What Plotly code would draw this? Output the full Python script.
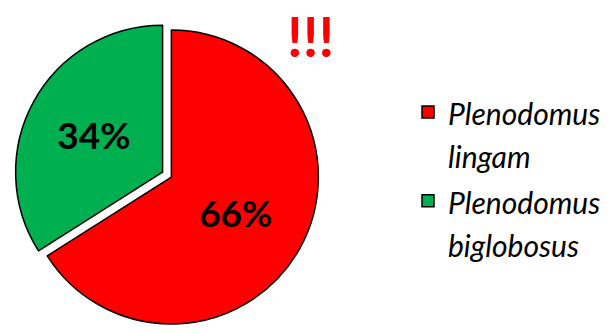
import plotly.graph_objects as go

species = ["Plenodomus<br>lingam", "Plenodomus<br>biglobosus"]
shares = [66, 34]
colors = ["#FF0000", "#00B050"]
pulls = [0, 0.068]
alert_text = "!!!"

legend_labels = ['<span style="font-size:30px">' + s.replace("<br>", '</span><br><span style="font-size:30px">') + "</span>" for s in species]

fig = go.Figure(
    go.Pie(
        labels=legend_labels,
        values=shares,
        sort=False,
        direction="clockwise",
        rotation=0,
        pull=pulls,
        marker=dict(colors=colors, line=dict(color="black", width=1.5)),
        textinfo="percent",
        texttemplate="%{percent:.0%}",
        textposition="inside",
        insidetextorientation="horizontal",
        textfont=dict(family="Lato", size=37, color="black", weight="bold"),
        domain=dict(x=[0.0, 0.56], y=[0.0, 0.94]),
        hoverinfo="skip",
    )
)

fig.add_annotation(
    text=alert_text,
    xref="paper", yref="paper",
    x=310 / 612, y=1.0,
    xanchor="center", yanchor="top",
    showarrow=False,
    font=dict(family="Lato", size=56, color="#FF0000", weight="bold"),
)

fig.update_layout(
    width=612,
    height=334,
    margin=dict(l=0, r=0, t=0, b=0),
    paper_bgcolor="white",
    plot_bgcolor="white",
    showlegend=True,
    legend=dict(
        x=408 / 612,
        y=1 - 84 / 334,
        xanchor="left",
        yanchor="top",
        valign="top",
        font=dict(family="Lato", size=33, color="black", style="italic"),
        bgcolor="rgba(0,0,0,0)",
    ),
)

fig.write_html("out.html")
